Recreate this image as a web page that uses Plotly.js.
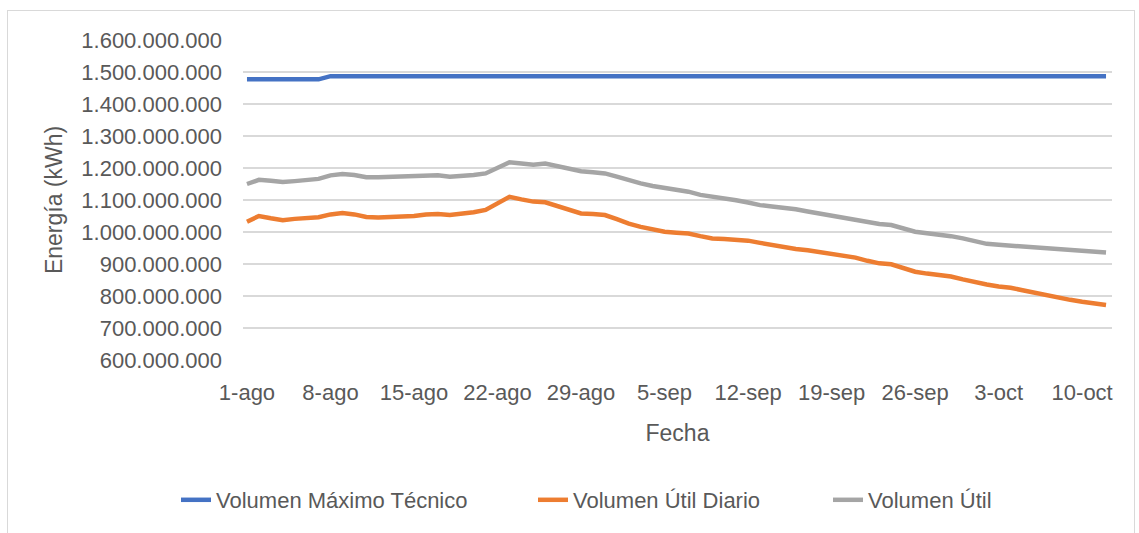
<!DOCTYPE html>
<html>
<head>
<meta charset="utf-8">
<script src="https://cdn.plot.ly/plotly-3.0.1.min.js"></script>
<style>
  html, body { margin: 0; padding: 0; background: #fff; }
  #wrap { position: relative; width: 1139px; height: 533px; overflow: hidden; }
  #frame { position: absolute; left: 7px; top: 10px; width: 1128px; height: 540px; border: 1px solid #d9d9d9; box-sizing: border-box; pointer-events: none; }
  #chart { position: absolute; left: 0; top: 0; width: 1139px; height: 533px; }
</style>
</head>
<body>
<div id="wrap">
  <div id="chart"></div>
  <div id="frame"></div>
</div>
<script>
// ---- Data (values in millions of kWh, one per day from 1-ago) ----
const startDate = "2022-08-01";
const nDays = 73;

const volumenMaximoTecnico = [
  1477, 1477, 1477, 1477, 1477, 1477, 1477, 1487, 1487, 1487,
  1487, 1487, 1487, 1487, 1487, 1487, 1487, 1487, 1487, 1487,
  1487, 1487, 1487, 1487, 1487, 1487, 1487, 1487, 1487, 1487,
  1487, 1487, 1487, 1487, 1487, 1487, 1487, 1487, 1487, 1487,
  1487, 1487, 1487, 1487, 1487, 1487, 1487, 1487, 1487, 1487,
  1487, 1487, 1487, 1487, 1487, 1487, 1487, 1487, 1487, 1487,
  1487, 1487, 1487, 1487, 1487, 1487, 1487, 1487, 1487, 1487,
  1487, 1487, 1487
];

const volumenUtilDiario = [
  1032, 1050, 1043, 1037, 1041, 1044, 1046, 1055, 1059, 1055,
  1047, 1045, 1046, 1048, 1050, 1055, 1056, 1053, 1057, 1062,
  1069, 1090, 1110, 1102, 1095, 1093, 1082, 1069, 1058, 1056,
  1053, 1040, 1026, 1016, 1008, 1001,  998,  995,  987,  980,
   978,  976,  973,  966,  959,  953,  947,  943,  937,  931,
   926,  920,  910,  902,  899,  886,  876,  870,  866,  861,
   852,  843,  836,  830,  826,  818,  810,  803,  796,  788,
   782,  777,  772
];

const volumenUtil = [
  1150, 1163, 1160, 1156, 1159, 1164, 1166, 1177, 1181, 1178,
  1171, 1171, 1172, 1172, 1174, 1176, 1177, 1173, 1175, 1178,
  1183, 1200, 1218, 1214, 1210, 1214, 1205, 1197, 1190, 1187,
  1183, 1173, 1162, 1152, 1144, 1138, 1134, 1126, 1116, 1111,
  1106, 1099, 1092, 1084, 1080, 1076, 1071, 1064, 1057, 1052,
  1046, 1039, 1032, 1025, 1022, 1011, 1001,  996,  992,  987,
   980,  971,  963,  960,  957,  954,  952,  949,  946,  943,
   941,  939,  936
];

const tickDates = ["2022-08-01","2022-08-08","2022-08-15","2022-08-22","2022-08-29",
  "2022-09-05","2022-09-12","2022-09-19","2022-09-26","2022-10-03","2022-10-10"];
const tickLabels = ["1-ago","8-ago","15-ago","22-ago","29-ago","5-sep","12-sep",
  "19-sep","26-sep","3-oct","10-oct"];

const yTickVals = [600, 700, 800, 900, 1000, 1100, 1200, 1300, 1400, 1500, 1600];

// ---- Build dates ----
const fechas = [];
const base = new Date(startDate + "T00:00:00Z");
for (let i = 0; i < nDays; i++) {
  const d = new Date(base.getTime() + i * 86400000);
  fechas.push(d.toISOString().slice(0, 10));
}
const toKWh = arr => arr.map(v => v * 1e6);

const textColor = "#595959";
const fontFam = "'Liberation Sans', Arial, sans-serif";

const traces = [
  { x: fechas, y: toKWh(volumenMaximoTecnico), name: "Volumen Máximo Técnico", type: "scatter", mode: "lines",
    line: { color: "#4472C4", width: 4.5 }, legend: "legend" },
  { x: fechas, y: toKWh(volumenUtilDiario), name: "Volumen Útil Diario", type: "scatter", mode: "lines",
    line: { color: "#ED7D31", width: 4.5 }, legend: "legend2" },
  { x: fechas, y: toKWh(volumenUtil), name: "Volumen Útil", type: "scatter", mode: "lines",
    line: { color: "#A5A5A5", width: 4.5 }, legend: "legend3" }
];

const legendBase = {
  orientation: "h", xanchor: "left", y: -0.4375, yanchor: "middle",
  font: { family: fontFam, size: 22, color: textColor }, bgcolor: "rgba(0,0,0,0)"
};

const layout = {
  width: 1139, height: 533, autosize: false,
  paper_bgcolor: "#ffffff", plot_bgcolor: "#ffffff",
  separators: ",.",
  margin: { l: 243, r: 27, t: 40, b: 173 },
  font: { family: fontFam, color: textColor, size: 22 },
  showlegend: true,
  legend: Object.assign({}, legendBase, { x: -0.0771 }),
  legend2: Object.assign({}, legendBase, { x: 0.3337 }),
  legend3: Object.assign({}, legendBase, { x: 0.6732 }),
  xaxis: {
    type: "date",
    range: ["2022-07-31 16:00", "2022-10-12 12:00"],
    tickmode: "array", tickvals: tickDates, ticktext: tickLabels,
    showgrid: false, zeroline: false, showline: false, ticks: "",
    ticklabelstandoff: 17,
    tickfont: { family: fontFam, size: 22, color: textColor },
    title: { text: "Fecha", font: { family: fontFam, size: 23, color: textColor }, standoff: 20 },
    automargin: false
  },
  yaxis: {
    range: [600e6, 1600e6],
    tickmode: "array", tickvals: toKWh(yTickVals), tickformat: ",",
    showgrid: true, gridcolor: "#D9D9D9", gridwidth: 1.2,
    zeroline: false, showline: false, ticks: "",
    ticklabelstandoff: 20,
    tickfont: { family: fontFam, size: 22, color: textColor },
    title: { text: "Energía (kWh)", font: { family: fontFam, size: 23, color: textColor }, standoff: 12 },
    automargin: false
  }
};

Plotly.newPlot("chart", traces, layout, { displayModeBar: false, staticPlot: true });
</script>
</body>
</html>
